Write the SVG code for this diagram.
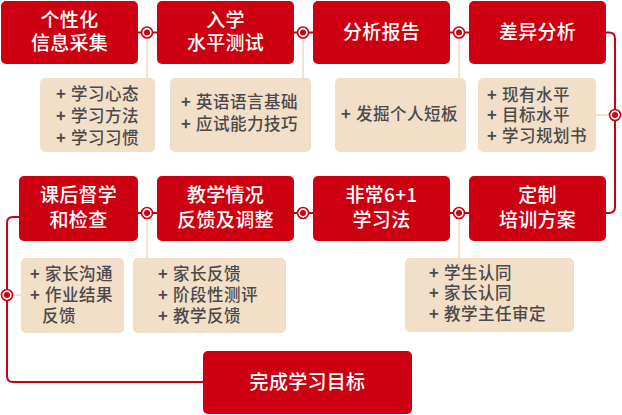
<svg xmlns="http://www.w3.org/2000/svg" width="622" height="415" viewBox="0 0 622 415">
<style>
.box{fill:#cc0010}
.det{fill:#f2dfc8}
.t{font-family:"Noto Sans CJK SC","Noto Sans",sans-serif;font-size:19px;font-weight:500;fill:#ffffff;text-anchor:middle;letter-spacing:0.3px}
.d{font-family:"Noto Sans CJK SC","Noto Sans",sans-serif;font-size:16.5px;font-weight:500;fill:#4a4a4a;letter-spacing:0.5px}
.p{font-family:"Noto Sans CJK SC","Noto Sans",sans-serif;font-size:16.5px;font-weight:bold;fill:#4a4a4a}
.red{fill:none;stroke:#cc0010;stroke-width:2}
.lite{fill:none;stroke:#efd9c0;stroke-width:1.5}
.ring{fill:#ffffff;stroke:#cc0010;stroke-width:1.6}
.dot{fill:#cc0010}
</style>
<g id="connectors">
<path class="lite" d="M147 32.5V78M303 32.5V78M459 32.5V78M596 115H615M147 213V258M459 213V258M7 295H21"/>
<path class="red" d="M138 32.5H157M294 32.5H313M450 32.5H469M138 213H157M294 213H313M450 213H469"/>
<path class="red" d="M606 32.5H609Q615 32.5 615 38.5V207Q615 213 609 213H606"/>
<path class="red" d="M19 217H13Q7 217 7 223V376Q7 382 13 382H203"/>
<g>
<circle class="ring" cx="147" cy="32.5" r="5.5"/><circle class="dot" cx="147" cy="32.5" r="3"/>
<circle class="ring" cx="303" cy="32.5" r="5.5"/><circle class="dot" cx="303" cy="32.5" r="3"/>
<circle class="ring" cx="459" cy="32.5" r="5.5"/><circle class="dot" cx="459" cy="32.5" r="3"/>
<circle class="ring" cx="615" cy="115" r="5.5"/><circle class="dot" cx="615" cy="115" r="3"/>
<circle class="ring" cx="147" cy="213" r="5.5"/><circle class="dot" cx="147" cy="213" r="3"/>
<circle class="ring" cx="303" cy="213" r="5.5"/><circle class="dot" cx="303" cy="213" r="3"/>
<circle class="ring" cx="459" cy="213" r="5.5"/><circle class="dot" cx="459" cy="213" r="3"/>
<circle class="ring" cx="7" cy="295" r="5.5"/><circle class="dot" cx="7" cy="295" r="3"/>
</g>
</g>
<g id="n1"><rect class="box" x="1" y="1" width="137" height="63" rx="5"/><text class="t" x="69.5" y="27">个性化</text><text class="t" x="69.5" y="50">信息采集</text></g>
<g id="n2"><rect class="box" x="157" y="1" width="137" height="63" rx="5"/><text class="t" x="225.5" y="27">入学</text><text class="t" x="225.5" y="50">水平测试</text></g>
<g id="n3"><rect class="box" x="313" y="1" width="137" height="63" rx="5"/><text class="t" x="381.5" y="39">分析报告</text></g>
<g id="n4"><rect class="box" x="469" y="1" width="137" height="63" rx="5"/><text class="t" x="537.5" y="39">差异分析</text></g>
<g id="d1"><rect class="det" x="40" y="78" width="115" height="74" rx="5"/>
<text class="p" x="56" y="100">+</text><text class="d" x="71" y="100">学习心态</text>
<text class="p" x="56" y="122">+</text><text class="d" x="71" y="122">学习方法</text>
<text class="p" x="56" y="143.5">+</text><text class="d" x="71" y="143.5">学习习惯</text></g>
<g id="d2"><rect class="det" x="170" y="78" width="141" height="74" rx="5"/>
<text class="p" x="181" y="108">+</text><text class="d" x="196" y="108">英语语言基础</text>
<text class="p" x="181" y="130">+</text><text class="d" x="196" y="130">应试能力技巧</text></g>
<g id="d3"><rect class="det" x="335" y="78" width="131" height="74" rx="5"/>
<text class="p" x="341" y="120">+</text><text class="d" x="356" y="120">发掘个人短板</text></g>
<g id="d4"><rect class="det" x="478" y="78" width="118" height="74" rx="5"/>
<text class="p" x="487" y="101">+</text><text class="d" x="502" y="101">现有水平</text>
<text class="p" x="487" y="121">+</text><text class="d" x="502" y="121">目标水平</text>
<text class="p" x="487" y="142">+</text><text class="d" x="502" y="142">学习规划书</text></g>
<g id="n5"><rect class="box" x="19" y="176" width="119" height="65" rx="5"/><text class="t" x="78.5" y="202">课后督学</text><text class="t" x="78.5" y="227">和检查</text></g>
<g id="n6"><rect class="box" x="157" y="176" width="137" height="65" rx="5"/><text class="t" x="225.5" y="202">教学情况</text><text class="t" x="225.5" y="227">反馈及调整</text></g>
<g id="n7"><rect class="box" x="313" y="176" width="137" height="65" rx="5"/><text class="t" x="381.5" y="202">非常6+1</text><text class="t" x="381.5" y="227">学习法</text></g>
<g id="n8"><rect class="box" x="469" y="176" width="137" height="65" rx="5"/><text class="t" x="537.5" y="202">定制</text><text class="t" x="537.5" y="227">培训方案</text></g>
<g id="d5"><rect class="det" x="21" y="258" width="103" height="75" rx="5"/>
<text class="p" x="30" y="280">+</text><text class="d" x="45" y="280">家长沟通</text>
<text class="p" x="30" y="301">+</text><text class="d" x="45" y="301">作业结果</text>
<text class="d" x="42" y="322">反馈</text></g>
<g id="d6"><rect class="det" x="133" y="258" width="153" height="75" rx="5"/>
<text class="p" x="158" y="280">+</text><text class="d" x="173" y="280">家长反馈</text>
<text class="p" x="158" y="301">+</text><text class="d" x="173" y="301">阶段性测评</text>
<text class="p" x="158" y="322">+</text><text class="d" x="173" y="322">教学反馈</text></g>
<g id="d7"><rect class="det" x="405" y="258" width="169" height="74" rx="5"/>
<text class="p" x="429" y="279">+</text><text class="d" x="444" y="279">学生认同</text>
<text class="p" x="429" y="299">+</text><text class="d" x="444" y="299">家长认同</text>
<text class="p" x="429" y="320">+</text><text class="d" x="444" y="320">教学主任审定</text></g>
<g id="n9"><rect class="box" x="203" y="351" width="209" height="63" rx="5"/><text class="t" x="307.5" y="389">完成学习目标</text></g>
</svg>
